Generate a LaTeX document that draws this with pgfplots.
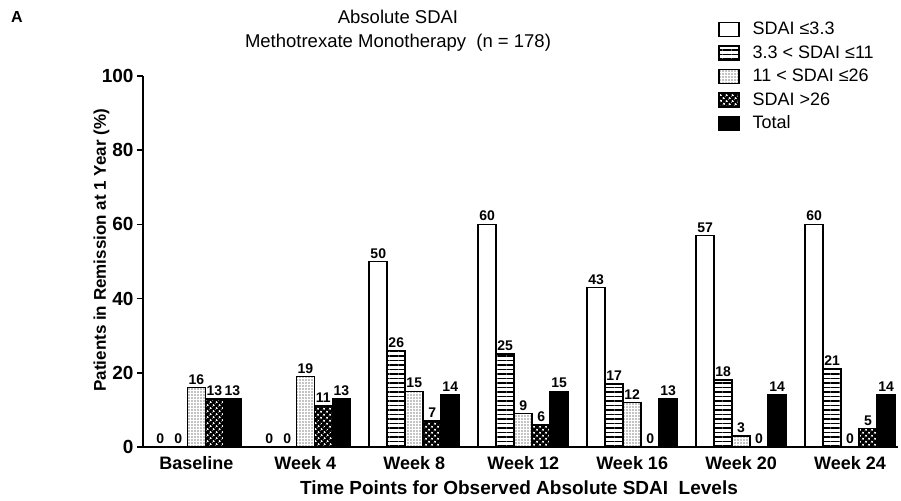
\documentclass[border=0pt]{standalone}
\usepackage{fontspec}
\setmainfont{Liberation Sans}
\usepackage{pgfplots}
\pgfplotsset{compat=1.18}
\usetikzlibrary{patterns,patterns.meta}
\begin{document}
\begin{tikzpicture}
\useasboundingbox (-143pt,-53pt) rectangle (758pt,447pt);
\node[font=\bfseries\fontsize{16}{18}\selectfont] at (-126pt,430pt) {A};
\node[font=\fontsize{18.5}{24}\selectfont, align=center] at (255pt,416pt) {Absolute SDAI\\Methotrexate Monotherapy\ \ (n = 178)};
\begin{axis}[
  scale only axis,
  width=755pt, height=371pt,
  xmin=-0.49, xmax=6.44, ymin=0, ymax=100,
  axis x line=bottom, axis y line=left,
  axis line style={-, line width=1.7pt},
  ybar=0pt, bar width=18pt,
  /pgf/number format/assume math mode=true,
  xtick={0,1,2,3,4,5,6},
  xticklabels={Baseline,Week 4,Week 8,Week 12,Week 16,Week 20,Week 24},
  x tick style={draw=none},
  ytick={0,20,40,60,80,100},
  tick align=outside, major tick length=6pt,
  y tick style={line width=1.5pt, black},
  xticklabel style={font=\bfseries\fontsize{18}{20}\selectfont},
  yticklabel style={font=\bfseries\fontsize{19}{21}\selectfont},
  xlabel={Time Points for Observed Absolute SDAI\ \ Levels},
  ylabel={Patients in Remission at 1 Year (\%)},
  xlabel style={font=\bfseries\fontsize{19}{21}\selectfont, at={(axis description cs:0.498,-0.11)}, anchor=center},
  ylabel style={font=\bfseries\fontsize{17}{19}\selectfont, at={(axis description cs:-0.055,0.53)}, anchor=center},
  nodes near coords,
  every node near coord/.append style={font=\bfseries\fontsize{14}{15}\selectfont, black, inner sep=2.5pt},
  legend style={at={(0.7616,1.147)}, anchor=north west, draw=none, fill=none, inner sep=0pt,
    font=\fontsize{18}{20}\selectfont, row sep=7.5pt,
    nodes={text height=13pt, text depth=3pt, inner sep=0pt},
    /tikz/every odd column/.append style={column sep=13pt}},
  legend cell align=left,
  legend image code/.code={\draw[#1, line width=1.4pt] (0pt,-7pt) rectangle (20pt,7pt);},
]
\addplot[draw=black, line width=1.6pt, fill=white] coordinates {(0,0) (1,0) (2,50) (3,60) (4,43) (5,57) (6,60)};
\addplot[draw=black, line width=1.6pt, fill=white, pattern={Lines[angle=0,distance=4.5pt,line width=1.6pt]}] coordinates {(0,0) (1,0) (2,26) (3,25) (4,17) (5,18) (6,21)};
\addplot[draw=black, line width=1.6pt, fill=white, pattern={Dots[distance=3pt,radius=0.55pt]}] coordinates {(0,16) (1,19) (2,15) (3,9) (4,12) (5,3) (6,0)};
\addplot[draw=black, line width=1.6pt, fill=black, postaction={pattern={Dots[distance=4pt,radius=1.3pt,angle=45]}, pattern color=white}] coordinates {(0,13) (1,11) (2,7) (3,6) (4,0) (5,0) (6,5)};
\addplot[draw=black, line width=1.6pt, fill=black] coordinates {(0,13) (1,13) (2,14) (3,15) (4,13) (5,14) (6,14)};
\legend{SDAI ≤3.3, 3.3 < SDAI ≤11, 11 < SDAI ≤26, SDAI >26, Total}
\end{axis}
\end{tikzpicture}
\end{document}
